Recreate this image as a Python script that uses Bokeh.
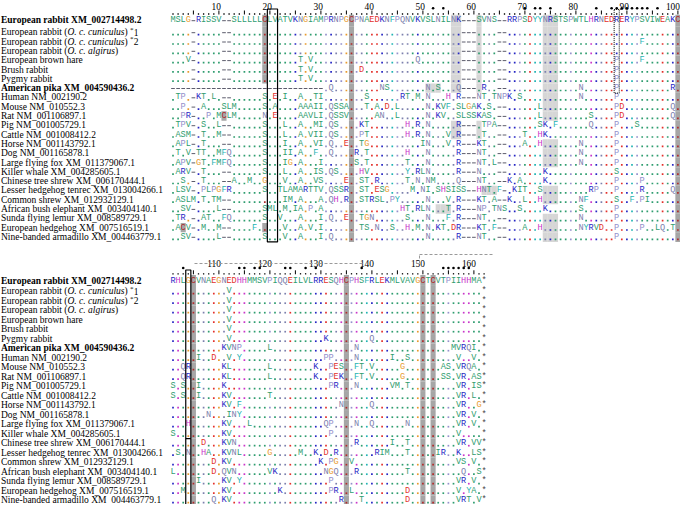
from bokeh.plotting import figure
from bokeh.models import Range1d, ColumnDataSource
from bokeh.core.properties import value
from bokeh.embed import file_html
from bokeh.resources import INLINE

# ---------------- data ----------------
species = [
    "European rabbit XM_002714498.2",
    "European rabbit (O. c. cuniculus) *1",
    "European rabbit (O. c. cuniculus) *2",
    "European rabbit (O. c. algirus)",
    "European brown hare",
    "Brush rabbit",
    "Pygmy rabbit",
    "American pika XM_004590436.2",
    "Human NM_002190.2",
    "Mouse NM_010552.3",
    "Rat NM_001106897.1",
    "Pig NM_001005729.1",
    "Cattle NM_001008412.2",
    "Horse NM_001143792.1",
    "Dog NM_001165878.1",
    "Large flying fox XM_011379067.1",
    "Killer whale XM_004285605.1",
    "Chinese tree shrew XM_006170444.1",
    "Lesser hedgehog tenrec XM_013004266.1",
    "Common shrew XM_012932129.1",
    "African bush elephant XM_003404140.1",
    "Sunda flying lemur XM_008589729.1",
    "European hedgehog XM_007516519.1",
    "Nine-banded armadillo XM_004463779.1",
]
bold_rows = [0, 7]
italic_rows = {1: ("O. c. cuniculus", "*1"), 2: ("O. c. cuniculus", "*2"), 3: ("O. c. algirus", "")}

top_ref = "MSLG-RISSV --SLLLLLCL VATVKNGIAM PRNPGCPNAE DKNFPQNVKV SLNILNK--- SVNS--RRPS DYYNRSTSPW TLHRNEDRER YPSVIWEAKC"
top_rows = [
    "....-..... --........ .......... .......... .......... .......--- ....--.... .......... .......... ..........",
    "....-..... --........ .......... .......... .......... .......--- ....--.... .......... .......... ..F.......",
    "....-..... --........ .......... .......... .......... .......--- ....--.... .......... .......... ..........",
    "...V-..... --........ .....T.V.. .......... ........Q. .......--- ....--.... .......... .......P.. ..F.......",
    "....-..... --........ .....T.V.. .......D.. .......... .......--- ....--.... .......... .......P.. ..........",
    "....-..... --........ .....T.V.. .......... .......... .......--- ....--.... .......... .......P.. ..........",
    "---------- ---------- ---------- .Q........ .NS....... N.S...Q--- .R..--.... .......... N......P.. ........R.",
    ".TP.-KT.L. --......S. E.I..A..TI ........S. .....RT.M. N...H.R--- NT.TNPK.S. .......... N......P.. ..........",
    "..P.-.A... SLM.....S. A....AAAII .QSSA...T. A.D.L..... N.KVF.SLGA K.S.--.... ..L....... .......PD. ........Q.",
    "..PR-..P.M CLM.....N. E....AAVLI .QSSV..... AN..L..... N.KV..SLSS KAS.--.... ..L....... ..S....PD. ........Q.",
    ".TPV-.S..L --......S. ..L..A..MI .QS....KT. ......H.R. N.....R--- .TPA--.... ..SK.F.... ..Q....P.. .S........",
    ".ASM-.T..M --......S. ..L..A.VII .QS....PT. ......H.R. N...V.R--- .T..--...T ..HK...... .......P.. ..........",
    ".APL-.T... --......S. ..I..A..VI .Q..E..TG. .........I N...V.R--- KT..--...A ..H....... N......P.. ..........",
    ".T.V-TT..M FQ......S. ..II.A..F. .Q....R.T. ......H... N.....R--- NT..--.... .......... N......P.. ..........",
    ".APV-GT.FM FQ......S. ..IG.A...I ......S.T. ......T... N.....R--- NT.L--.... .......... N......P.. ..........",
    ".ARV-.T... --......S. ..L..A..IS .QS....HV. ......Y.RL N.....R--- N...--.... ...K...... .......S.. ..........",
    "..S.-.T... --A..M..G. ..V..A..VS ....E..ST. R.....T.N. NM....Q--- NT..--K.A. ...K...... .......P.. ..P.......",
    ".LSV-.PLPG FR......S. .TLAMARTTV .QSSR..ST. ESG....M.N I.SHSISS-- HNT.F-.KIT ..S....... ..RP...P.. ..R.....Q.",
    ".ASLM.T.TM --........ ..IM.A...A .QH.R..STR SL.PY..... N...V.R--- KT.A--K..L ..H....... NF.....S.. F.PI......",
    "..SV-....L --......SM L.M.IA.P.A .......... .....HT.RL N...T.R--- NP.TNS..S. ...K...... S......P.. ..........",
    ".TR.-.AT.. FQ......S. .V...A...I .Q..E..TGN ......S... N...F.R--- NT..--.... .......... N......P.. ..........",
    ".ACV-.M..M --....F... ..V..A.V.I .......TS. N..S..H.M. N.KT.DR--- KT.F--...A ..H....... NYRVD..P.. ..P..LQ.T.",
    "..SV-....L --......S. ..V..A...I .Q........ .......... N.....R--- NT..--.... .......... .......P.. ..........",
]

bot_ref = "RHLGCVNAEG NEDHHMMSVP IQQEILVLRR ESQHCPHSFR LEKMLVAVGC TCVTPIIHHM A*"
bot_rows = [
    ".......... .V........ .......... .......... .......... .......... .*",
    ".......... .V........ .......... .......... .......... .......... .*",
    ".......... .V........ .......... .......... .......... .......... .*",
    ".......... .V........ .......... .......... .......... .......... .*",
    ".......... .V........ .......... .......... .......... .......... .*",
    ".......... .V........ .......... K........Q .......... .......... .*",
    ".......... KVNP.....L .......... ......N... .......... .....MVRQI .*",
    ".....I..D. .V.Y...... .......... PP....N... ...I..S... ......V..V .*",
    "..QR...... KL.......L ........K. .PES..FT.V .....G.... ...AS.VRQA .*",
    "..QR...... KL.......L ........K. .PEK..FT.V .....G.... ...SS.VR.A S*",
    "S.S..I.... K......... .......... .PR...N... ...VM.T... ......VR.I S*",
    "S.S..I.... KV.......T .......... .......... .......... ......VR.L .*",
    ".......... KV.F...... .......... ...N.....Q .......... ......VR.. G*",
    ".......N.. .INY...... .......... .......... .......... ......VR.V .*",
    "...H...... KV...L.... .......... QP....N..Q ......N... ......VR.V .*",
    "S......... KV........ .......... .P........ .......... ......V... .*",
    "......D... KVN....... .......... ......R... ...I..T... ......VR.V V*",
    ".S.N..HA.. KVNL.....G .....M..K. D.R....... RIM...T... ..IR..K..L S*",
    "........D. KV........ .........K .PG..V.... .......... ......VS.V .*",
    "L.......D. QVN......V K......... NGQ...R... ......T... .......Q.. S*",
    ".....I.... KV.Y...... .......... .P........ .......... ......VR.V .*",
    "..M....... KV........ .K........ .PR..L.... ......D... ......V.YA .*",
    "........Q. KV........ .......... ...R...T.. ......D... ......VRT. V*",
]

top_first, top_ncols = 1, 100
bot_first, bot_ncols = 101, 62
top_marks = [52, 54, 70, 72, 73, 75, 84, 87, 88, 89, 90, 91, 92, 93, 94, 96]
bot_marks = [103, 114, 115, 117, 118, 123, 124, 127, 129, 138, 154, 155, 156, 157, 158, 159]
unshaded_cys = [(19, 19)]   # (row, column) cysteines drawn without the grey cell

# ---------------- layout ----------------
W, H = 680, 504
CW = 5.1                      # pixel width of one alignment column
X0 = 1 - (180.5 - 8) / CW     # data x at the left page edge of the figure
def cx(px_img):
    return X0 + (px_img - 8) / CW

top_y = [19.8] + [31.8 + 9.3 * i for i in range(23)]
bot_y = [280.0] + [290.8 + 9.5 * i for i in range(23)]

GREEN, CYAN, ORANGE, VIOLET, GREYV, RED, BLUE, MAG, CRED = (
    "#2f9d6f", "#1fb3b3", "#e89a2c", "#9490cc", "#7c80ad", "#e3302b", "#2626c4", "#c935c9", "#b02a2a")
AA = {}
for a in "AVLIMWST":
    AA[a] = GREEN
for a in "FY":
    AA[a] = CYAN
AA["G"] = ORANGE
AA["P"] = VIOLET
for a in "NQ":
    AA[a] = GREYV
for a in "DE":
    AA[a] = RED
for a in "KR":
    AA[a] = BLUE
AA["H"] = MAG
AA["C"] = CRED

def clean(s, n):
    s = s.replace(" ", "")
    if len(s) < n:
        s = s + "." * (n - len(s))
    return s[:n]

p = figure(width=W, height=H, output_backend="svg", toolbar_location=None,
           x_range=Range1d(X0, X0 + W / CW), y_range=Range1d(H, 0),
           x_axis_location=None, y_axis_location=None, min_border=0)
p.outline_line_color = None
p.xgrid.grid_line_color = None
p.ygrid.grid_line_color = None

MONO = value("Liberation Mono")
SERIF = value("Liberation Serif")
LAB_PX = 9.5

def bounds(ys):
    tops = [ys[0] - 5.5] + [(ys[i - 1] + ys[i]) / 2 for i in range(1, len(ys))]
    bots = [(ys[i] + ys[i + 1]) / 2 for i in range(len(ys) - 1)] + [ys[-1] + 5]
    return tops, bots

def draw_block(ref_raw, rows_raw, ys, ncols, first, sequons):
    ref = clean(ref_raw, ncols)
    seqs = [ref] + [clean(r, ncols) for r in rows_raw]
    tops, bots = bounds(ys)
    L = dict(x=[], y=[], t=[], c=[])
    D = dict(x=[], y=[], c=[])
    G = dict(x0=[], x1=[], y=[])
    cq = dict(l=[], r=[], t=[], b=[])
    sq = dict(l=[], r=[], t=[], b=[])
    for i, s in enumerate(seqs):
        y = ys[i]
        resolved = []
        for j, ch in enumerate(s):
            x = j + 1
            res = ref[j] if ch == "." else ch
            if ch == ".":
                D["x"].append(x); D["y"].append(y + 2.4)
                D["c"].append(AA.get(ref[j], "#777777"))
            elif ch == "-":
                G["x0"].append(x - 0.36); G["x1"].append(x + 0.36); G["y"].append(y + 0.4)
            else:
                L["x"].append(x); L["y"].append(y); L["t"].append(ch)
                L["c"].append(AA.get(ch, "#444444"))
            if res == "C" and (i, first + j) not in unshaded_cys:
                cq["l"].append(x - 0.5); cq["r"].append(x + 0.5)
                cq["t"].append(tops[i]); cq["b"].append(bots[i])
            if res not in "-*.":
                resolved.append((x, res))
        if sequons:
            for k in range(len(resolved) - 2):
                if resolved[k][1] == "N" and resolved[k + 1][1] != "P" and resolved[k + 2][1] in "ST":
                    for m in range(3):
                        xx = resolved[k + m][0]
                        sq["l"].append(xx - 0.5); sq["r"].append(xx + 0.5)
                        sq["t"].append(tops[i]); sq["b"].append(bots[i])
    p.quad(left="l", right="r", top="t", bottom="b", source=ColumnDataSource(sq),
           fill_color="#d6d6d6", line_color=None)
    p.quad(left="l", right="r", top="t", bottom="b", source=ColumnDataSource(cq),
           fill_color="#a6a6a6", line_color=None)
    p.scatter(x="x", y="y", source=ColumnDataSource(D), marker="square", size=1.7,
              fill_color="c", line_color=None)
    p.segment(x0="x0", x1="x1", y0="y", y1="y", source=ColumnDataSource(G),
              line_color="#5c5c6c", line_width=1)
    p.text(x="x", y="y", text="t", source=ColumnDataSource(L), text_color="c",
           text_font=MONO, text_font_size="8.6px", text_align="center", text_baseline="middle")

def draw_ruler(first, ncols, y_num, y_tick_top, y_tick_bot, y_dot, y_mark, marks):
    tx, ty0, ty1, dx, dy = [], [], [], [], []
    nx, nt = [], []
    for j in range(ncols):
        col = first + j
        x = j + 1
        if col % 5 == 0:
            tx.append(x); ty0.append(y_tick_top); ty1.append(y_tick_bot)
        else:
            dx.append(x); dy.append(y_dot)
        if col % 10 == 0:
            nx.append(x + 0.4); nt.append(str(col))
    p.segment(x0=tx, x1=tx, y0=ty0, y1=ty1, line_color="black", line_width=1)
    p.scatter(x=dx, y=dy, marker="square", size=1.3, fill_color="black", line_color=None)
    p.text(x=nx, y=[y_num] * len(nx), text=nt, text_font=SERIF, text_font_size="9.4px",
           text_align="right", text_baseline="middle", text_color="black")
    mx = [m - first + 1 for m in marks]
    p.scatter(x=mx, y=[y_mark] * len(mx), marker="circle", size=2.6,
              fill_color="black", line_color=None)

def draw_labels(ys):
    norm = dict(x=[], y=[], t=[])
    bold = dict(x=[], y=[], t=[])
    ital = dict(x=[], y=[], t=[])
    small = dict(x=[], y=[], t=[])
    x_left = cx(8.5)
    em = LAB_PX
    for i, name in enumerate(species):
        y = ys[i]
        if i in italic_rows:
            it, star = italic_rows[i]
            pre = "European rabbit ("
            norm["x"].append(x_left); norm["y"].append(y); norm["t"].append(pre)
            w_pre = 6.998 * em
            w_it = (5.999 if "cuniculus" in it else 5.0) * em
            ital["x"].append(x_left + w_pre / CW); ital["y"].append(y); ital["t"].append(it)
            xp = x_left + (w_pre + w_it) / CW
            norm["x"].append(xp); norm["y"].append(y); norm["t"].append(")")
            if star:
                xs = xp + (0.333 + 0.25) * em / CW
                small["x"].append(xs); small["y"].append(y - 2.3); small["t"].append("*")
                norm["x"].append(xs + 3.7 / CW); norm["y"].append(y); norm["t"].append(star[1])
        elif i in bold_rows:
            bold["x"].append(x_left); bold["y"].append(y); bold["t"].append(name)
        else:
            norm["x"].append(x_left); norm["y"].append(y); norm["t"].append(name)
    size = "%.1fpx" % LAB_PX
    for d, style, sz in ((norm, "normal", size), (bold, "bold", size),
                         (ital, "italic", size), (small, "normal", "7px")):
        p.text(x="x", y="y", text="t", source=ColumnDataSource(d), text_font=SERIF,
               text_font_style=style, text_font_size=sz, text_align="left",
               text_baseline="middle", text_color="black")

# top block
draw_ruler(top_first, top_ncols, 5.5, 10.0, 14.0, 13.5, 7.8, top_marks)
draw_block(top_ref, top_rows, top_y, top_ncols, top_first, True)
draw_labels(top_y)
# bottom block
draw_ruler(bot_first, bot_ncols, 262.5, 269.8, 273.8, 273.3, 267.5, bot_marks)
draw_block(bot_ref, bot_rows, bot_y, bot_ncols, bot_first, True)
draw_labels(bot_y)

# highlight boxes
p.quad(left=[19.5], right=[21.5], top=[8.5], bottom=[top_y[-1] + 5], fill_alpha=0,
       line_color="black", line_width=1.2)
p.quad(left=[87.5], right=[88.5], top=[9.0], bottom=[top_y[7] + 5], fill_alpha=0,
       line_color="black", line_width=1, line_dash="1 1")
p.quad(left=[3.5], right=[4.5], top=[269.5], bottom=[bot_y[-1] + 5], fill_alpha=0,
       line_color="black", line_width=1.2)
ysplit = (bot_y[16] + bot_y[17]) / 2
p.segment(x0=[3.5], x1=[4.5], y0=[ysplit], y1=[ysplit], line_color="black", line_width=1.2)

# dashed header brackets of the lower block
p.segment(x0=[cx(202), cx(427), cx(427)], x1=[cx(372), cx(427), cx(500)],
          y0=[263.0, 263.0, 254.0], y1=[263.0, 254.0, 254.0],
          line_color="#9a9a9a", line_width=1, line_dash="3 2")

open("out.html", "w").write(file_html(p, INLINE))
